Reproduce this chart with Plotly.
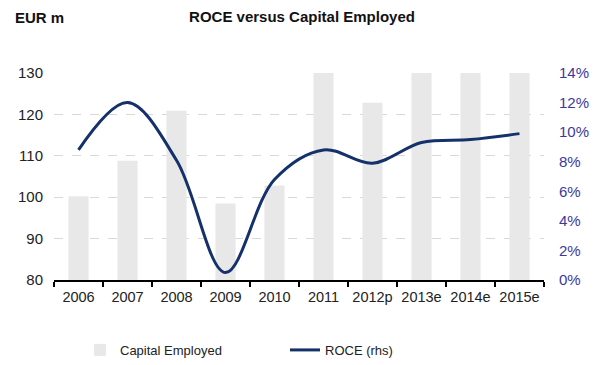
import plotly.graph_objects as go

categories = ["2006", "2007", "2008", "2009", "2010", "2011", "2012p", "2013e", "2014e", "2015e"]
capital_employed = [100.2, 108.8, 120.9, 98.5, 102.8, 131, 122.8, 133, 136, 138]
roce = [0.088, 0.120, 0.081, 0.005, 0.068, 0.088, 0.079, 0.093, 0.095, 0.099]
left_ticks = [80, 90, 100, 110, 120, 130]
right_ticks = [0, 0.02, 0.04, 0.06, 0.08, 0.10, 0.12, 0.14]

FONT = "Liberation Sans, Arial, sans-serif"

fig = go.Figure()
fig.add_trace(go.Bar(
    x=categories, y=capital_employed, name="Capital Employed",
    marker=dict(color="#e8e8e8", line=dict(width=0)),
    width=0.41, yaxis="y",
))
fig.add_trace(go.Scatter(
    x=categories, y=roce, name="ROCE (rhs)", mode="lines",
    line=dict(color="#15316b", width=3, shape="spline", smoothing=1.0),
    yaxis="y2",
))

fig.update_layout(
    width=604, height=365,
    margin=dict(l=54, r=60, t=73, b=85, autoexpand=False),
    paper_bgcolor="white", plot_bgcolor="white",
    font=dict(family=FONT, size=15, color="#222"),
    title=dict(text="<b>ROCE versus Capital Employed</b>", x=0.5, xanchor="center",
               y=1 - 17 / 365, yanchor="middle", yref="container",
               font=dict(family=FONT, size=15, color="#111")),
    showlegend=True,
    legend=dict(orientation="h", x=(80 - 54) / 490, xanchor="left",
                y=-0.338, yanchor="middle",
                font=dict(family=FONT, size=13, color="#222"),
                entrywidth=160, entrywidthmode="pixels",
                traceorder="normal"),
    xaxis=dict(type="category", range=[-0.5, 9.5], showline=True, linecolor="black",
               linewidth=2, ticks="outside", tickson="boundaries", ticklen=5,
               tickcolor="black", tickwidth=1.5, showgrid=False, tickangle=0,
               automargin=False, ticklabelstandoff=3,
               tickfont=dict(family=FONT, size=14.5, color="#222"), fixedrange=True),
    yaxis=dict(range=[80, 130], tickvals=left_ticks, showgrid=True, gridcolor="#d9d9d9",
               griddash="dash", gridwidth=1, zeroline=False, showline=False,
               ticklabelstandoff=10, automargin=False,
               tickfont=dict(family=FONT, size=15, color="#222")),
    yaxis2=dict(range=[0, 0.14], tickvals=right_ticks, tickformat=".0%", overlaying="y",
                side="right", showgrid=False, zeroline=False, showline=False,
                ticklabelstandoff=14, automargin=False,
                tickfont=dict(family=FONT, size=15, color="#3a3a9c")),
    annotations=[dict(text="<b>EUR m</b>", xref="paper", yref="paper",
                      x=(13 - 54) / 490, xanchor="left", y=1 + (73 - 17) / 207, yanchor="middle",
                      showarrow=False, font=dict(family=FONT, size=15, color="#111"))],
)

fig.write_html("out.html")
